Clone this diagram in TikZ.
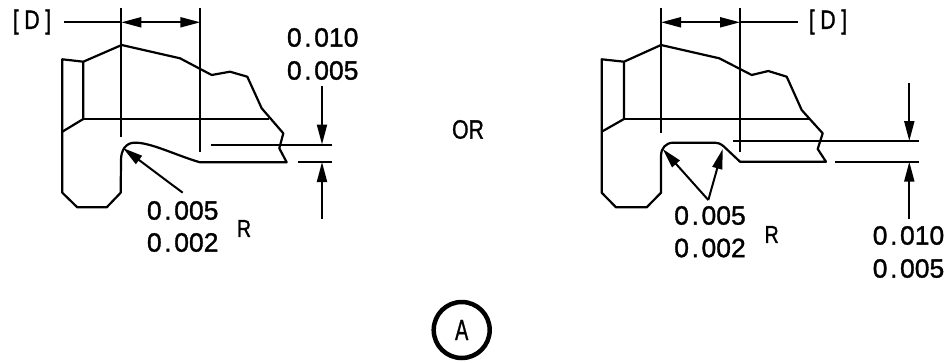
\documentclass[tikz,border=0pt]{standalone}
\usepackage{fontspec}
\setmainfont{Liberation Sans}
\newfontfamily\heavy[FakeBold=1.2]{Liberation Sans}
\usetikzlibrary{arrows.meta}
\newcommand{\dimnum}[2]{#1\kern2.6pt.\kern2.6pt#2}
\newcommand{\narrow}[1]{\scalebox{.8}[1]{#1}}
\tikzset{
  x=1pt,y=-1pt,
  part/.style={line width=2.2pt,line join=round},
  dimline/.style={line width=2pt},
  arrowed/.style={line width=2pt,-{Triangle[length=20pt,width=10pt]}},
  both arrowed/.style={line width=2pt,{Triangle[length=20pt,width=10pt]}-{Triangle[length=20pt,width=10pt]}},
  num/.style={inner sep=0pt,font=\heavy\fontsize{26.5}{26.5}\selectfont},
  lab/.style={inner sep=0pt,font=\heavy\fontsize{26.5}{26.5}\selectfont},
  small lab/.style={inner sep=0pt,font=\heavy\fontsize{24.5}{24.5}\selectfont},
}
\begin{document}
\begin{tikzpicture}
\useasboundingbox (0,0) rectangle (951,362);
% left part
\draw[part] (62.3,59.3)--(83.3,61.7)--(121.7,45)--(180,58.3)--(211.7,75)--(230,71.7)--(247.3,76.7)--(261.7,108.3)--(283.3,133.3)--(279.3,148.3)--(286.7,162.3)--(200,162.3)
  .. controls (175,155) and (150,142) .. (134,142.7) .. controls (126,143) and (121,150) .. (121,160)
  --(120.7,192.7)--(106.7,207.3)--(77.3,207.3)--(62.3,192.7)--cycle;
\draw[part] (83.3,61.7)--(83.3,119)--(62.3,131.7);
\draw[part] (83.3,119)--(269,119);
\draw[dimline] (121.3,8)--(121.3,137);
\draw[dimline] (200.3,8)--(200.3,152);
\draw[both arrowed] (121.3,22.3)--(200.3,22.3);
\draw[dimline] (63.7,22.3)--(121.3,22.3);
\draw[dimline] (211,144.5)--(332,144.5);
\draw[dimline] (297.5,162)--(332,162);
\draw[arrowed] (322,86)--(322,144.5);
\draw[arrowed] (322,219)--(322,162);
\draw[arrowed] (182.7,192.7)--(123,148);
\node[lab] (dl) at (32,22) {\narrow{[\kern7pt D\kern7pt ]}};
\node[num] (a1) at (322.7,37.5) {\dimnum{0}{010}};
\node[num] (a2) at (322.7,70.5) {\dimnum{0}{005}};
\node[num] (a3) at (182.7,210.5) {\dimnum{0}{005}};
\node[num] (a4) at (182.7,242.5) {\dimnum{0}{002}};
\node[small lab] (r1) at (244,228.5) {\narrow{R}};
% right part
\draw[part] (601.7,59.3)--(624,61.7)--(661,45)--(719.3,58.3)--(751.7,75)--(768.3,71)--(786.7,76.7)--(801.7,110)--(810,119.3)--(822.7,133.3)--(817.7,149)--(826,161.7)--(740,161.7)--(723.3,146)
  .. controls (720,143.5) and (718,142.7) .. (715,142.7) -- (673.3,142.7) .. controls (666,142.7) and (661,148) .. (661,156)
  --(661,192.7)--(646.7,207.3)--(616,207.3)--(601.7,192.7)--cycle;
\draw[part] (624,61.7)--(624,119)--(601.7,131.7);
\draw[part] (624,119)--(810,119);
\draw[dimline] (661,8)--(661,133);
\draw[dimline] (740,8)--(740,152);
\draw[both arrowed] (661,22.3)--(740,22.3);
\draw[dimline] (740,22.3)--(798,22.3);
\draw[dimline] (733.3,141)--(919,141);
\draw[dimline] (835,161.7)--(919,161.7);
\draw[arrowed] (909.3,83)--(909.3,141);
\draw[arrowed] (909.3,219)--(909.3,161.7);
\draw[arrowed] (708.3,200)--(662.7,149);
\draw[arrowed] (708.3,200)--(722.7,149);
\node[lab] (dr) at (828,22) {\narrow{[\kern7pt D\kern7pt ]}};
\node[num] (b1) at (908.5,235.5) {\dimnum{0}{010}};
\node[num] (b2) at (908.5,268.5) {\dimnum{0}{005}};
\node[num] (b3) at (710,215.5) {\dimnum{0}{005}};
\node[num] (b4) at (710,248) {\dimnum{0}{002}};
\node[small lab] (r2) at (771.7,234.5) {\narrow{R}};
% centre
\node[lab] (or) at (468,129.5) {\narrow{OR}};
\node[draw,circle,line width=4.5pt,minimum size=56pt,inner sep=0pt,font=\heavy\fontsize{26.5}{26.5}\selectfont] (callout) at (461.7,330) {\scalebox{.75}[1.1]{A}};
\end{tikzpicture}
\end{document}
